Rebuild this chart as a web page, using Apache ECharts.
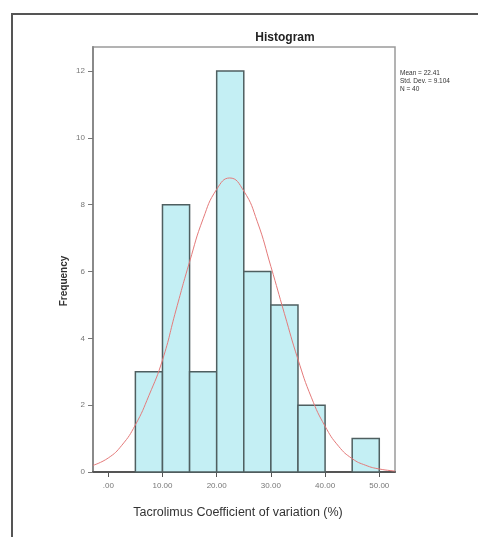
<!DOCTYPE html>
<html>
<head>
<meta charset="utf-8">
<script src="https://cdn.jsdelivr.net/npm/echarts@6/dist/echarts.min.js"></script>
<style>
html,body{margin:0;padding:0;background:#fff;}
#chart{width:478px;height:537px;}
</style>
</head>
<body>
<div id="chart"></div>
<script>
// Histogram bins (lower edge, upper edge) and frequencies
const binLower = [5, 10, 15, 20, 25, 30, 35, 40, 45];
const binUpper = [10, 15, 20, 25, 30, 35, 40, 45, 50];
const frequency = [3, 8, 3, 12, 6, 5, 2, 0, 1];

// Normal curve, values
const curveX = [-2.8, 0, 2.5, 5, 7.5, 10, 12.5, 15, 17.5, 20, 22.4, 25, 27.5, 30, 32.5, 35, 37.5, 40, 42.5, 45, 47.5, 50, 52.9];
const curveY = [0.2, 0.42, 0.8, 1.41, 2.29, 3.35, 4.85, 6.29, 7.58, 8.46, 8.8, 8.41, 7.49, 6.15, 4.74, 3.37, 2.22, 1.37, 0.77, 0.4, 0.2, 0.09, 0.03];

const xTickValues = [0, 10, 20, 30, 40, 50];
const xTickLabels = ['.00', '10.00', '20.00', '30.00', '40.00', '50.00'];
const yTickValues = [0, 2, 4, 6, 8, 10, 12];

const stats = ['Mean = 22.41', 'Std. Dev. = 9.104', 'N = 40'];

const histData = binLower.map((lo, i) => [lo, binUpper[i], frequency[i]]).filter(d => d[2] > 0);
const curveData = curveX.map((x, i) => [x, curveY[i]]);

const chart = echarts.init(document.getElementById('chart'), null, {renderer: 'canvas'});
chart.setOption({
  animation: false,
  backgroundColor: '#fff',
  title: {
    text: 'Histogram',
    left: 280, top: 27,
    textAlign: 'center',
    textStyle: {fontFamily: 'Liberation Sans', fontSize: 12, fontWeight: 'bold', color: '#222'}
  },
  graphic: [
    {type: 'rect', shape: {x: 12, y: 14, width: 520, height: 560},
     style: {fill: 'none', stroke: '#555', lineWidth: 2}, z: 100},
    {type: 'text', left: 400, top: 69,
     style: {text: stats.join('\n'), fontFamily: 'Liberation Sans', fontSize: 6.5, lineHeight: 8, fill: '#333'}, z: 100},
    {type: 'text', x: 64, y: 281, rotation: Math.PI / 2,
     style: {text: 'Frequency', fontFamily: 'Liberation Sans', fontSize: 10, fontWeight: 'bold', fill: '#333',
             align: 'center', verticalAlign: 'middle'}, z: 100}
  ],
  grid: {
    left: 93, right: 83, top: 47, bottom: 65,
    show: true, borderColor: '#9a9a9a', borderWidth: 1.5, backgroundColor: '#fff'
  },
  xAxis: {
    type: 'value',
    min: -2.82, max: 52.9,
    name: 'Tacrolimus Coefficient of variation (%)',
    nameLocation: 'middle',
    nameGap: 34,
    nameTextStyle: {fontFamily: 'Liberation Sans', fontSize: 12.5, color: '#333', padding: [0, 12, 0, 0]},
    axisLine: {show: true, onZero: false, lineStyle: {color: '#555', width: 2}},
    axisTick: {show: true, length: 5, customValues: xTickValues, lineStyle: {color: '#555', width: 1}},
    axisLabel: {customValues: xTickValues, margin: 10, fontSize: 8, color: '#777',
      fontFamily: 'Liberation Sans',
      formatter: v => xTickLabels[xTickValues.indexOf(Math.round(v))] || ''},
    splitLine: {show: false}
  },
  yAxis: {
    type: 'value',
    min: 0, max: 12.72,
    axisLine: {show: true, onZero: false, lineStyle: {color: '#8a8a8a', width: 2}},
    axisTick: {show: true, length: 5, customValues: yTickValues, lineStyle: {color: '#777', width: 1}},
    axisLabel: {customValues: yTickValues, margin: 8, fontSize: 8, color: '#777', fontFamily: 'Liberation Sans'},
    splitLine: {show: false}
  },
  series: [
    {
      type: 'custom',
      data: histData,
      encode: {x: [0, 1], y: 2},
      renderItem: function (params, api) {
        const p0 = api.coord([api.value(0), 0]);
        const p1 = api.coord([api.value(1), api.value(2)]);
        return {
          type: 'rect',
          shape: {x: p0[0], y: p1[1], width: p1[0] - p0[0], height: p0[1] - p1[1]},
          style: {fill: '#c4eff4', stroke: '#4f5f60', lineWidth: 1.5}
        };
      },
      z: 2
    },
    {
      type: 'line',
      data: curveData,
      smooth: 0.5,
      showSymbol: false,
      lineStyle: {color: '#e47a7a', width: 1},
      z: 3
    }
  ]
});
</script>
</body>
</html>
